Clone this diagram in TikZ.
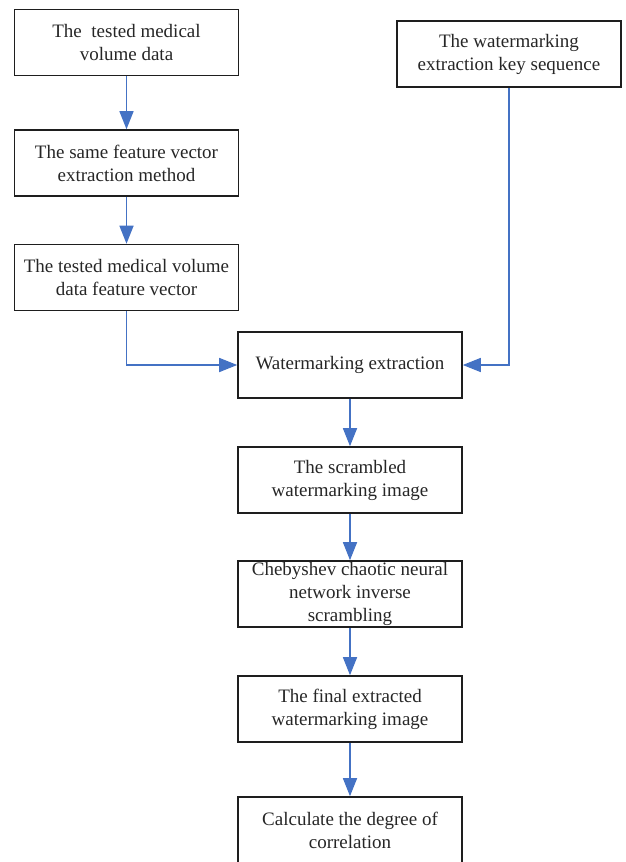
\documentclass[tikz,border=0pt]{standalone}
\usepackage{fontspec}
\setmainfont{Liberation Serif}
\usetikzlibrary{arrows.meta}
\definecolor{flowblue}{RGB}{68,114,196}
\definecolor{boxline}{RGB}{30,30,30}
\tikzset{
  box/.style={draw=boxline, line width=1.6pt, minimum width=224pt, minimum height=66pt,
    inner sep=0pt, align=center, font=\fontsize{19pt}{23pt}\selectfont, text=black!85},
  flow/.style={draw=flowblue, line width=1.6pt, -{Triangle[length=18pt,width=14pt]}}
}
\begin{document}
\begin{tikzpicture}[x=1pt,y=-1pt]
\useasboundingbox (0,0) rectangle (625,862);
\node[box] (b1) at (126.5,42.5) {The~ tested medical\\volume data};
\node[box] (b2) at (126.5,163) {The same feature vector\\extraction method};
\node[box] (b3) at (126.5,277.5) {The tested medical volume\\data feature vector};
\node[box] (key) at (509,54) {The watermarking\\extraction key sequence};
\node[box] (we) at (350,365) {Watermarking extraction};
\node[box] (scr) at (350,480) {The scrambled\\watermarking image};
\node[box] (cheb) at (350,594) {Chebyshev chaotic neural\\network inverse\\scrambling};
\node[box] (fin) at (350,709) {The final extracted\\watermarking image};
\node[box] (calc) at (350,830) {Calculate the degree of\\correlation};
\draw[flow] (b1) -- (b2);
\draw[flow] (b2) -- (b3);
\draw[flow] (b3.south) |- (we.west);
\draw[flow] (key.south) |- (we.east);
\draw[flow] (we) -- (scr);
\draw[flow] (scr) -- (cheb);
\draw[flow] (cheb) -- (fin);
\draw[flow] (fin) -- (calc);
\end{tikzpicture}
\end{document}
